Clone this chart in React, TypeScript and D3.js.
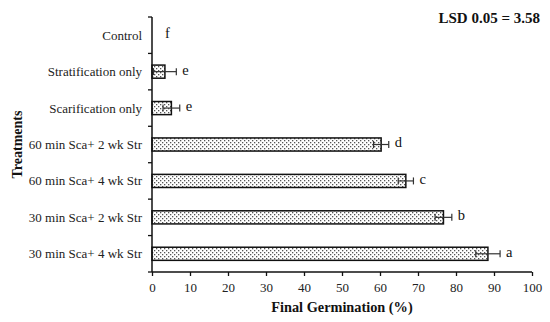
import React, { useEffect, useRef } from 'react';
import * as d3 from 'd3';

const treatments = [
  'Control',
  'Stratification only',
  'Scarification only',
  '60 min Sca+ 2 wk Str',
  '60 min Sca+ 4 wk Str',
  '30 min Sca+ 2 wk Str',
  '30 min Sca+ 4 wk Str',
];
const germination = [0, 3.4, 5.1, 60.3, 66.8, 76.7, 88.4];
const errors = [0, 3.0, 2.2, 2.0, 2.0, 2.2, 3.2];
const letters = ['f', 'e', 'e', 'd', 'c', 'b', 'a'];
const xTicks = [0, 10, 20, 30, 40, 50, 60, 70, 80, 90, 100];

const App = () => {
  const svgRef = useRef<SVGSVGElement>(null);

  useEffect(() => {
    const svg = d3.select(svgRef.current);
    svg.selectAll('*').remove();

    const font = '"Liberation Serif", "Times New Roman", serif';
    const left = 152, right = 532, top = 17, bottom = 272;

    const x = d3.scaleLinear().domain([0, 100]).range([left, right]);
    const y = d3.scaleBand().domain(treatments).range([top, bottom]).paddingInner(0.64).paddingOuter(0.32);

    const defs = svg.append('defs');
    const pat = defs.append('pattern')
      .attr('id', 'dots')
      .attr('patternUnits', 'userSpaceOnUse')
      .attr('width', 4)
      .attr('height', 4);
    pat.append('rect').attr('width', 4).attr('height', 4).attr('fill', '#fff');
    pat.append('rect').attr('x', 0).attr('y', 0).attr('width', 1.3).attr('height', 1.3).attr('fill', '#555');
    pat.append('rect').attr('x', 2).attr('y', 2).attr('width', 1.3).attr('height', 1.3).attr('fill', '#555');

    // bars
    const data = treatments.map((t, i) => ({ t, v: germination[i], e: errors[i], l: letters[i] }));
    data.filter(d => d.v > 0).forEach(d => {
      svg.append('rect')
        .attr('x', x(0))
        .attr('y', y(d.t)!)
        .attr('width', x(d.v) - x(0))
        .attr('height', y.bandwidth())
        .attr('fill', 'url(#dots)')
        .attr('stroke', '#111')
        .attr('stroke-width', 1.5);
    });

    // error bars
    data.filter(d => d.e > 0).forEach(d => {
      const cy = y(d.t)! + y.bandwidth() / 2;
      const g = svg.append('g').attr('stroke', '#333').attr('stroke-width', 1.2);
      g.append('line').attr('x1', x(d.v - d.e)).attr('x2', x(d.v + d.e)).attr('y1', cy).attr('y2', cy);
      [d.v - d.e, d.v + d.e].forEach(v => {
        g.append('line').attr('x1', x(v)).attr('x2', x(v)).attr('y1', cy - 3.5).attr('y2', cy + 3.5);
      });
    });

    // letters
    data.forEach(d => {
      const cy = y(d.t)! + y.bandwidth() / 2;
      svg.append('text')
        .attr('x', d.v === 0 ? x(0) + 13 : x(d.v + d.e) + 6)
        .attr('y', cy)
        .attr('dy', '0.2em')
        .attr('font-family', font)
        .attr('font-size', 14.5)
        .attr('fill', '#111')
        .text(d.l);
    });

    // x axis
    const xAxis = svg.append('g')
      .attr('transform', `translate(0,${bottom})`)
      .call(d3.axisBottom(x).tickValues(xTicks).tickSize(4).tickSizeOuter(0));
    xAxis.select('.domain').attr('stroke', '#111').attr('stroke-width', 1.5).attr('d', `M${left},0H${right}`);
    xAxis.selectAll('.tick line').attr('stroke', '#111').attr('stroke-width', 1.3);
    xAxis.selectAll('.tick text')
      .attr('font-family', font).attr('font-size', 13).attr('fill', '#222').attr('y', 20).attr('dy', 0);

    // y axis
    const yAxis = svg.append('g').attr('transform', `translate(${left},0)`);
    yAxis.append('line').attr('x1', 0).attr('x2', 0).attr('y1', top).attr('y2', bottom)
      .attr('stroke', '#111').attr('stroke-width', 1.5);
    d3.range(treatments.length + 1).forEach(i => {
      const ty = top + i * (bottom - top) / treatments.length;
      yAxis.append('line').attr('x1', -4).attr('x2', 0).attr('y1', ty).attr('y2', ty)
        .attr('stroke', '#111').attr('stroke-width', 1.3);
    });
    treatments.forEach(t => {
      yAxis.append('text')
        .attr('x', -10)
        .attr('y', y(t)! + y.bandwidth() / 2)
        .attr('dy', '0.35em')
        .attr('text-anchor', 'end')
        .attr('font-family', font)
        .attr('font-size', 13)
        .attr('fill', '#222')
        .text(t);
    });

    // titles
    svg.append('text')
      .attr('x', (left + right) / 2)
      .attr('y', 311.5)
      .attr('text-anchor', 'middle')
      .attr('font-family', font)
      .attr('font-weight', 'bold')
      .attr('font-size', 14.3)
      .attr('fill', '#111')
      .text('Final Germination (%)');

    svg.append('text')
      .attr('transform', `translate(21.5,${(top + bottom) / 2}) rotate(-90)`)
      .attr('text-anchor', 'middle')
      .attr('font-family', font)
      .attr('font-weight', 'bold')
      .attr('font-size', 14)
      .attr('fill', '#111')
      .text('Treatments');

    svg.append('text')
      .attr('x', 540)
      .attr('y', 22.5)
      .attr('text-anchor', 'end')
      .attr('font-family', font)
      .attr('font-weight', 'bold')
      .attr('font-size', 15)
      .attr('fill', '#111')
      .text('LSD 0.05 = 3.58');
  }, []);

  return (
    <svg ref={svgRef} width={550} height={322}
      style={{ position: 'absolute', left: 0, top: 0, background: '#fff' }} />
  );
};

export default App;
